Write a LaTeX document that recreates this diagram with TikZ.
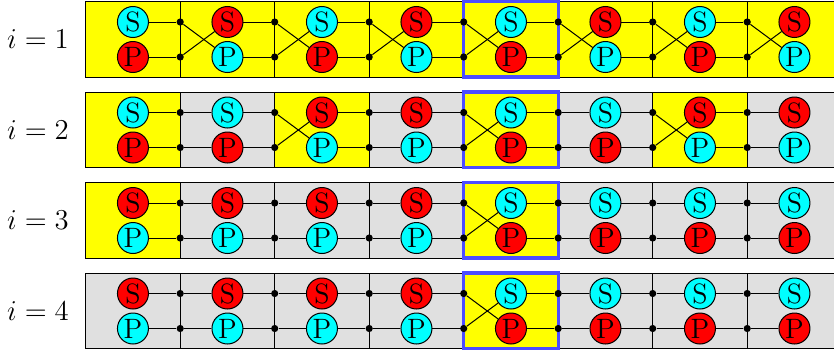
\documentclass[tikz,border=0pt]{standalone}
\usepackage{fontspec}
\pgfdeclarelayer{bg}
\pgfdeclarelayer{mid}
\pgfsetlayers{bg,mid,main}
\definecolor{cellgray}{RGB}{224,224,224}
\definecolor{hiblue}{RGB}{76,76,255}
\definecolor{cy}{RGB}{0,255,255}
\definecolor{rd}{RGB}{255,0,0}
\definecolor{yl}{RGB}{255,255,0}
\tikzset{
  ball/.style={circle, draw=black, line width=0.5pt, minimum size=15.5pt, inner sep=0pt, font=\fontsize{14}{16}\selectfont},
  jdot/.style={circle, fill=black, inner sep=0pt, minimum size=3.6pt},
  wire/.style={black, line width=0.5pt},
  cellbox/.style={draw=black, line width=0.5pt},
  hilite/.style={draw=hiblue, line width=1.6pt},
  rowlabel/.style={font=\fontsize{14}{16}\selectfont, inner sep=0pt},
}
\newcommand{\qcell}[6]{%
  \pgfmathsetmacro\xl{85.7+94.5*(#2-1)}%
  \pgfmathsetmacro\xr{\xl+94.5}%
  \pgfmathsetmacro\xc{\xl+47.25}%
  \pgfmathsetmacro\yt{1.5+90.5*(#1-1)}%
  \pgfmathsetmacro\yb{\yt+75.5}%
  \pgfmathsetmacro\ys{\yt+20.5}%
  \pgfmathsetmacro\yp{\yt+55.5}%
  \pgfmathtruncatemacro\kp{#2-1}%
  \begin{pgfonlayer}{bg}\fill[#3] (\xl,\yt) rectangle (\xr,\yb);\end{pgfonlayer}%
  \node[ball,fill=#4] (S-#1-#2) at (\xc,\ys) {S};%
  \node[ball,fill=#5] (P-#1-#2) at (\xc,\yp) {P};%
  \ifnum#2>1
    \begin{pgfonlayer}{mid}\draw[cellbox] (\xl,\yt) -- (\xl,\yb);\end{pgfonlayer}%
    \node[jdot] (D-#1-#2-s) at (\xl,\ys) {};%
    \node[jdot] (D-#1-#2-p) at (\xl,\yp) {};%
    \draw[wire] (S-#1-\kp) -- (D-#1-#2-s);%
    \draw[wire] (P-#1-\kp) -- (D-#1-#2-p);%
    \ifnum#6=1
      \draw[wire] (D-#1-#2-s) -- (P-#1-#2);%
      \draw[wire] (D-#1-#2-p) -- (S-#1-#2);%
    \else
      \draw[wire] (D-#1-#2-s) -- (S-#1-#2);%
      \draw[wire] (D-#1-#2-p) -- (P-#1-#2);%
    \fi
  \fi
}
\newcommand{\qrow}[2]{%
  \pgfmathsetmacro\yt{1.5+90.5*(#1-1)}%
  \pgfmathsetmacro\yb{\yt+75.5}%
  \pgfmathsetmacro\ym{\yt+37.75}%
  \node[rowlabel] (L-#1) at (38,\ym) {$i=#2$};%
  \begin{pgfonlayer}{mid}\draw[cellbox] (85.7,\yt) rectangle (841.7,\yb);\end{pgfonlayer}%
}
\newcommand{\qhi}[1]{%
  \pgfmathsetmacro\yt{1.5+90.5*(#1-1)}%
  \pgfmathsetmacro\yb{\yt+75.5}%
  \begin{pgfonlayer}{mid}\draw[hilite] (463.7,\yt) rectangle (558.2,\yb);\end{pgfonlayer}%
}
\begin{document}
\begin{tikzpicture}[x=0.5pt,y=-0.5pt]
\useasboundingbox (0,0) rectangle (834,354);
% row 1
\qrow{1}{1}
\qcell{1}{1}{yl}{cy}{rd}{0}
\qcell{1}{2}{yl}{rd}{cy}{1}
\qcell{1}{3}{yl}{cy}{rd}{1}
\qcell{1}{4}{yl}{rd}{cy}{1}
\qcell{1}{5}{yl}{cy}{rd}{1}
\qcell{1}{6}{yl}{rd}{cy}{1}
\qcell{1}{7}{yl}{cy}{rd}{1}
\qcell{1}{8}{yl}{rd}{cy}{1}
% row 2
\qrow{2}{2}
\qcell{2}{1}{yl}{cy}{rd}{0}
\qcell{2}{2}{cellgray}{cy}{rd}{0}
\qcell{2}{3}{yl}{rd}{cy}{1}
\qcell{2}{4}{cellgray}{rd}{cy}{0}
\qcell{2}{5}{yl}{cy}{rd}{1}
\qcell{2}{6}{cellgray}{cy}{rd}{0}
\qcell{2}{7}{yl}{rd}{cy}{1}
\qcell{2}{8}{cellgray}{rd}{cy}{0}
% row 3
\qrow{3}{3}
\qcell{3}{1}{yl}{rd}{cy}{0}
\qcell{3}{2}{cellgray}{rd}{cy}{0}
\qcell{3}{3}{cellgray}{rd}{cy}{0}
\qcell{3}{4}{cellgray}{rd}{cy}{0}
\qcell{3}{5}{yl}{cy}{rd}{1}
\qcell{3}{6}{cellgray}{cy}{rd}{0}
\qcell{3}{7}{cellgray}{cy}{rd}{0}
\qcell{3}{8}{cellgray}{cy}{rd}{0}
% row 4
\qrow{4}{4}
\qcell{4}{1}{cellgray}{rd}{cy}{0}
\qcell{4}{2}{cellgray}{rd}{cy}{0}
\qcell{4}{3}{cellgray}{rd}{cy}{0}
\qcell{4}{4}{cellgray}{rd}{cy}{0}
\qcell{4}{5}{yl}{cy}{rd}{1}
\qcell{4}{6}{cellgray}{cy}{rd}{0}
\qcell{4}{7}{cellgray}{cy}{rd}{0}
\qcell{4}{8}{cellgray}{cy}{rd}{0}
% highlight boxes
\qhi{1}\qhi{2}\qhi{3}\qhi{4}
\end{tikzpicture}
\end{document}
